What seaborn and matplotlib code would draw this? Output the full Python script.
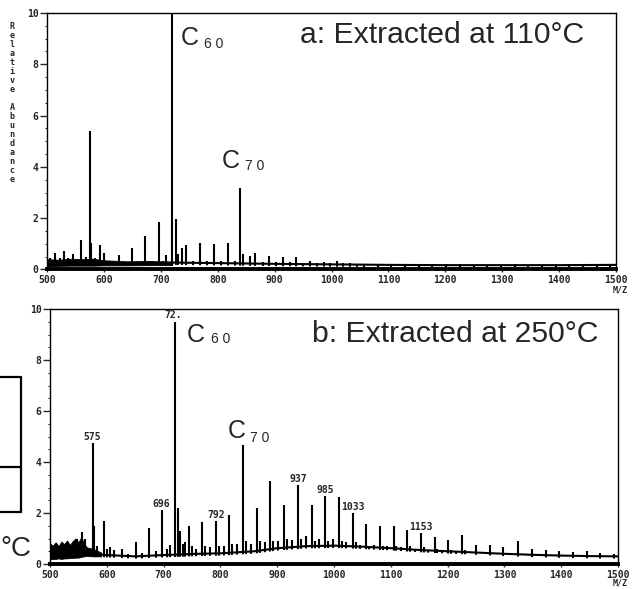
import matplotlib
matplotlib.use("Agg")
import matplotlib.pyplot as plt
from matplotlib.ticker import MultipleLocator, FixedLocator
from matplotlib.lines import Line2D
import seaborn as sns

sns.set_style("ticks")
plt.rcParams['font.family'] = ['Liberation Sans', 'DejaVu Sans']

# ---------------- data: panel a (110 C) ----------------
a_peak_mz = [505, 514, 522, 529, 537, 545, 552, 560, 568, 575, 578, 584, 594, 601, 610,
             617, 626, 637, 649, 661, 672, 684, 696, 704, 710, 720, 726, 731, 737, 745,
             757, 769, 781, 794, 806, 818, 830, 840, 844, 857, 866, 879, 891, 903, 914,
             927, 938, 950, 962, 975, 986, 998, 1009, 1020, 1033, 1045, 1057, 1081, 1105,
             1129, 1153, 1177, 1201, 1225, 1250, 1274, 1298, 1322, 1346, 1370, 1394, 1418,
             1442, 1466, 1490]
a_peak_h = [0.45, 0.65, 0.45, 0.72, 0.45, 0.6, 0.4, 1.15, 0.5, 5.4, 1.05, 0.45, 0.95, 0.65, 0.35,
            0.3, 0.55, 0.3, 0.85, 0.3, 1.3, 0.35, 1.87, 0.35, 0.55, 10.0, 1.96, 0.6, 0.85, 0.95,
            0.35, 1.05, 0.35, 0.98, 0.35, 1.05, 0.35, 3.18, 0.6, 0.52, 0.65, 0.3, 0.52, 0.3, 0.5,
            0.28, 0.5, 0.26, 0.33, 0.25, 0.3, 0.25, 0.34, 0.24, 0.24, 0.22, 0.23, 0.22, 0.21,
            0.21, 0.2, 0.2, 0.2, 0.2, 0.19, 0.19, 0.19, 0.2, 0.19, 0.19, 0.2, 0.2,
            0.2, 0.2, 0.21]
a_base_mz = [500, 560, 640, 720, 800, 900, 1000, 1100, 1200, 1300, 1400, 1500]
a_base_h = [0.25, 0.28, 0.25, 0.27, 0.25, 0.22, 0.2, 0.18, 0.17, 0.17, 0.17, 0.18]
a_noise_mz = [500, 520, 540, 560, 580, 600, 640, 680, 720]
a_noise_lo = [0.12, 0.14, 0.15, 0.15, 0.15, 0.16, 0.16, 0.17, 0.17]
a_noise_hi = [0.4, 0.38, 0.42, 0.4, 0.42, 0.36, 0.32, 0.33, 0.3]

# ---------------- data: panel b (250 C) ----------------
b_peak_mz = [548, 556, 561, 575, 578, 583, 595, 600, 606, 613, 626, 638, 651, 662, 675,
             686, 698, 706, 711, 720, 725, 729, 734, 738, 745, 750, 757, 768, 773, 781,
             792, 797, 806, 816, 821, 830, 840, 845, 854, 864, 869, 878, 888, 893, 902,
             912, 917, 926, 937, 942, 950, 961, 966, 974, 985, 990, 998, 1009, 1014, 1022,
             1033, 1038, 1046, 1057, 1062, 1070, 1081, 1086, 1094, 1105, 1110, 1118, 1129,
             1134, 1142, 1153, 1158, 1166, 1177, 1182, 1190, 1201, 1206, 1214, 1225, 1230,
             1250, 1274, 1298, 1324, 1348, 1373, 1397, 1421, 1445, 1468, 1493]
b_peak_h = [1.0, 1.25, 1.0, 4.75, 1.5, 0.7, 1.67, 0.6, 0.65, 0.55, 0.6, 0.4, 0.88, 0.45, 1.4,
            0.5, 2.1, 0.6, 0.75, 9.5, 2.2, 1.3, 0.8, 0.88, 1.5, 0.7, 0.6, 1.63, 0.7, 0.65,
            1.67, 0.7, 0.7, 1.93, 0.8, 0.8, 4.68, 0.9, 0.8, 2.2, 0.9, 0.85, 3.24, 0.9, 0.9,
            2.32, 1.0, 0.95, 3.1, 1.0, 1.1, 2.32, 0.9, 1.0, 2.65, 0.9, 1.0, 2.62, 0.9, 0.85,
            2.0, 0.85, 0.75, 1.57, 0.7, 0.75, 1.48, 0.7, 0.7, 1.48, 0.7, 0.65, 1.35,
            0.7, 0.6, 1.22, 0.65, 0.55, 1.05, 0.6, 0.55, 0.96, 0.55, 0.5, 1.13, 0.55,
            0.75, 0.75, 0.66, 0.92, 0.59, 0.55, 0.5, 0.47, 0.5, 0.43, 0.4]
b_base_mz = [500, 565, 600, 650, 700, 760, 800, 860, 900, 950, 1000, 1050, 1100, 1150,
             1200, 1250, 1300, 1350, 1400, 1450, 1500]
b_base_h = [0.45, 0.4, 0.35, 0.3, 0.35, 0.4, 0.42, 0.5, 0.62, 0.7, 0.72, 0.68, 0.62, 0.55,
            0.5, 0.45, 0.4, 0.36, 0.33, 0.31, 0.3]
b_noise_mz = [500, 505, 510, 515, 520, 525, 530, 535, 540, 545, 550, 555, 560, 565, 575, 590]
b_noise_lo = [0.18, 0.2, 0.2, 0.22, 0.2, 0.22, 0.22, 0.24, 0.24, 0.25, 0.25, 0.28, 0.3, 0.32, 0.3, 0.3]
b_noise_hi = [0.8, 0.72, 0.85, 0.7, 0.88, 0.78, 0.92, 0.75, 0.9, 1.0, 0.85, 1.05, 0.8, 0.65, 0.6, 0.45]

b_label_mz = [575, 720, 696, 792, 937, 985, 1033, 1153]
b_label_h = [4.75, 9.5, 2.1, 1.67, 3.1, 2.65, 2.0, 1.22]
b_label_txt = ["575", "72.", "696", "792", "937", "985", "1033", "1153"]

x_ticks = [500, 600, 700, 800, 900, 1000, 1100, 1200, 1300, 1400, 1500]
y_ticks = [0, 2, 4, 6, 8, 10]

W, H = 633, 589
fig = plt.figure(figsize=(W / 100, H / 100), dpi=100)

def box(l, t, r, b):
    return [l / W, 1 - b / H, (r - l) / W, (b - t) / H]

ax_a = fig.add_axes(box(47, 13, 616, 269.5))
ax_b = fig.add_axes(box(50, 309, 618, 564))

MONO = dict(family='DejaVu Sans Mono', weight='bold')

def draw(ax, pmz, ph, bmz, bh, nmz, nlo, nhi):
    ax.vlines(pmz, 0, ph, colors='black', lw=1.5, zorder=2)
    ax.fill_between(bmz, -1, [v - 0.07 for v in bh], color='white', lw=0, zorder=2.1)
    sns.lineplot(x=bmz, y=bh, ax=ax, color='black', lw=1.5, estimator=None, zorder=2.2)
    ax.fill_between(nmz, nlo, nhi, color='black', lw=0.6, zorder=2.3)
    ax.set_xlim(500, 1500)
    ax.set_ylim(0, 10)
    ax.xaxis.set_major_locator(FixedLocator(x_ticks))
    ax.yaxis.set_major_locator(FixedLocator(y_ticks))
    ax.yaxis.set_minor_locator(MultipleLocator(0.5))
    ax.set_xticklabels([str(v) for v in x_ticks], fontsize=7, **MONO)
    ax.set_yticklabels([str(v) for v in y_ticks], fontsize=7, **MONO)
    ax.tick_params(axis='y', which='major', direction='out', length=5, width=1, pad=1)
    ax.tick_params(axis='y', which='minor', direction='out', length=1.5, width=0.8)
    ax.tick_params(axis='x', which='major', direction='out', length=2, width=1, pad=2)
    for s in ['top', 'right', 'left']:
        ax.spines[s].set_linewidth(1.0)
        ax.spines[s].set_color('black')
    ax.spines['bottom'].set_linewidth(2.8)
    ax.spines['bottom'].set_color('black')
    ax.set_xlabel('')
    ax.set_ylabel('')
    ax.set_facecolor('white')

draw(ax_a, a_peak_mz, a_peak_h, a_base_mz, a_base_h, a_noise_mz, a_noise_lo, a_noise_hi)
draw(ax_b, b_peak_mz, b_peak_h, b_base_mz, b_base_h, b_noise_mz, b_noise_lo, b_noise_hi)

for m, h, t in zip(b_label_mz, b_label_h, b_label_txt):
    dx = -4 if t == "72." else 0
    ax_b.text(m + dx, h + 0.05, t, ha='center', va='bottom', fontsize=7, zorder=3, **MONO)

def ftext(x, y, s, **kw):
    fig.text(x / W, 1 - y / H, s, **kw)

# titles
ftext(300, 43, "a: Extracted at 110°C", fontsize=21.7, ha='left', va='baseline')
ftext(312, 342, "b: Extracted at 250°C", fontsize=21.7, ha='left', va='baseline')
# C60 / C70 labels
ftext(181, 45, "C", fontsize=18, va='baseline')
ftext(204, 48, "6 0", fontsize=10, va='baseline')
ftext(222, 168, "C", fontsize=18, va='baseline')
ftext(245, 170, "7 0", fontsize=10, va='baseline')
ftext(187, 342, "C", fontsize=18, va='baseline')
ftext(211, 343, "6 0", fontsize=10, va='baseline')
ftext(228, 438, "C", fontsize=18, va='baseline')
ftext(250, 442, "7 0", fontsize=10, va='baseline')

# axis annotations
ftext(620, 290, "M/Z", fontsize=6, ha='center', va='center', **MONO)
ftext(620, 583, "M/Z", fontsize=6, ha='center', va='center', **MONO)
ftext(12, 103, "\n".join("Relative Abundance"), fontsize=6, ha='center', va='center',
      linespacing=1.0, **MONO)

# stray fragments at left edge of the scan
for (x0, y0, x1, y1) in [(0, 377, 20.7, 377), (20.7, 377, 20.7, 512), (0, 512, 20.7, 512),
                         (0, 467, 20.7, 467)]:
    fig.add_artist(Line2D([x0 / W, x1 / W], [1 - y0 / H, 1 - y1 / H], color='black', lw=1.6,
                          transform=fig.transFigure))
ftext(0, 556, "°C", fontsize=20, ha='left', va='baseline')

fig.savefig("out.png", dpi=100, facecolor='white')
